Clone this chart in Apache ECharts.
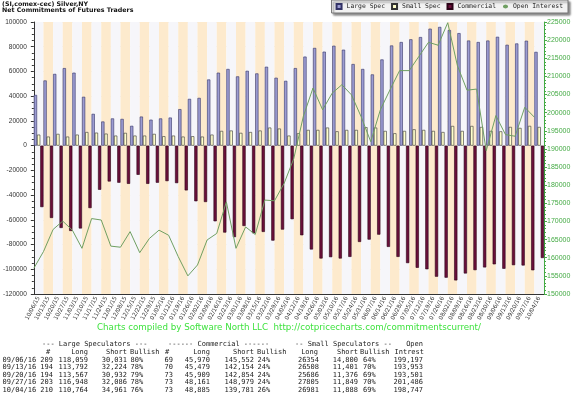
<!DOCTYPE html>
<html>
<head>
<meta charset="utf-8">
<title>Silver COT</title>
<style>
  html, body { margin: 0; padding: 0; background: #fff; }
  #main { width: 576px; height: 397px; }
</style>
</head>
<body>
<div id="main"></div>
<script src="https://cdn.jsdelivr.net/npm/echarts@6/dist/echarts.min.js"></script>
<script>
// weekly report dates
var dates = ['10/06/15','10/13/15','10/20/15','10/27/15','11/03/15','11/10/15','11/17/15','11/24/15','12/01/15','12/08/15',
  '12/15/15','12/22/15','12/29/15','01/05/16','01/12/16','01/19/16','01/26/16','02/02/16','02/09/16','02/16/16',
  '02/23/16','03/01/16','03/08/16','03/15/16','03/22/16','03/29/16','04/05/16','04/12/16','04/19/16','04/26/16',
  '05/03/16','05/10/16','05/17/16','05/24/16','05/31/16','06/07/16','06/14/16','06/21/16','06/28/16','07/05/16',
  '07/12/16','07/19/16','07/26/16','08/02/16','08/09/16','08/16/16','08/23/16','08/30/16','09/06/16','09/13/16',
  '09/20/16','09/27/16','10/04/16'];

// net positions
var largeSpec = [41000,52700,58000,62700,59000,39500,25700,19500,22000,21600,
  16000,23500,21000,22000,22700,29500,37800,38600,53500,59000,
  62000,56000,60500,58400,63800,54900,52400,62700,72000,79000,
  76000,80800,77600,66000,62000,57600,69700,81000,83800,86000,
  87800,94600,96000,93500,91000,85000,83800,85000,88028,81568,
  82635,84862,75803];
var smallSpec = [8900,7300,9500,7300,8900,11000,10500,9700,8100,10300,
  8100,8100,9500,7600,8100,7300,7600,7300,8900,11900,
  12200,10300,11000,12200,14600,13800,8100,10000,12700,12700,
  14600,11600,12700,12700,14900,14600,11900,10000,11900,13200,
  12700,11900,11000,15900,11900,15900,15100,11900,11554,15107,
  14310,15956,15093];
var commercial = [-49700,-58500,-66600,-69000,-67000,-50500,-35700,-29000,-30000,-30900,
  -23600,-30900,-30000,-28700,-30300,-36200,-45000,-45600,-61200,-70300,
  -74000,-65000,-70900,-69800,-76800,-67900,-59500,-72500,-84000,-91300,
  -90200,-91300,-90000,-77900,-76000,-72000,-81900,-90000,-95000,-98800,
  -100000,-106000,-106800,-109000,-103400,-100700,-98500,-96000,-99582,-96675,
  -96945,-100818,-90896];
var openInterest = [157100,161700,167800,170100,167600,162600,170800,170400,163200,162900,
  167200,161400,165300,167600,166200,160300,155000,158000,164900,166700,
  175400,162600,168500,166400,175900,175700,180500,187300,199000,206800,
  200800,205400,207700,204900,198900,192000,200800,206300,211600,211600,
  215500,219400,218600,224800,213000,206200,206500,189500,199197,193953,
  193501,201486,198747];

// table at the bottom
var tblDates = ['09/06/16','09/13/16','09/20/16','09/27/16','10/04/16'];
var lgCount = ['209','194','194','203','210'];
var lgLong = ['118,059','113,792','113,567','116,948','110,764'];
var lgShort = ['30,031','32,224','30,932','32,086','34,961'];
var lgBull = ['80%','78%','79%','78%','76%'];
var cmCount = ['69','70','73','73','73'];
var cmLong = ['45,970','45,479','45,909','48,161','48,885'];
var cmShort = ['145,552','142,154','142,854','148,979','139,781'];
var cmBull = ['24%','24%','24%','24%','26%'];
var smLong = ['26354','26508','25686','27805','26981'];
var smShort = ['14,800','11,401','11,376','11,849','11,888'];
var smBull = ['64%','70%','69%','70%','69%'];
var oiTbl = ['199,197','193,953','193,501','201,486','198,747'];

var mono = '7px "DejaVu Sans Mono"';
function txt(s, x, y, align, font, fill) {
    return {
        type: 'text', silent: true,
        style: { text: s, x: x, y: y, font: font || mono, fill: fill || '#222',
                 align: align, textAlign: align, verticalAlign: 'middle', textVerticalAlign: 'middle' }
    };
}

var g = [];
g.push(txt('(SI,comex-cec) Silver,NY', 2, 4, 'left', 'bold 6.3px "DejaVu Sans"', '#111'));
g.push(txt('Net Commitments of Futures Traders', 2, 10.5, 'left', 'bold 6.3px "DejaVu Sans"', '#111'));
g.push(txt('Charts compiled by Software North LLC  http://cotpricecharts.com/commitmentscurrent/', 289, 328, 'center', '8.7px "DejaVu Sans"', '#3ee23e'));

// headers
g.push(txt('--- Large Speculators ---', 42, 344, 'left'));
g.push(txt('------ Commercial ------', 168, 344, 'left'));
g.push(txt('-- Small Speculators --', 295, 344, 'left'));
g.push(txt('Open', 423, 344, 'right'));
g.push(txt('#', 48, 352, 'center'));
g.push(txt('Long', 88, 352, 'right'));
g.push(txt('Short', 127, 352, 'right'));
g.push(txt('Bullish', 130, 352, 'left'));
g.push(txt('#', 167, 352, 'center'));
g.push(txt('Long', 210, 352, 'right'));
g.push(txt('Short', 254, 352, 'right'));
g.push(txt('Bullish', 257, 352, 'left'));
g.push(txt('Long', 318, 352, 'right'));
g.push(txt('Short', 358, 352, 'right'));
g.push(txt('Bullish', 360, 352, 'left'));
g.push(txt('Intrest', 424, 352, 'right'));

for (var r = 0; r < tblDates.length; r++) {
    var y = 359.8 + r * 7.6;
    g.push(txt(tblDates[r], 2.5, y, 'left'));
    g.push(txt(lgCount[r], 53, y, 'right'));
    g.push(txt(lgLong[r], 88, y, 'right'));
    g.push(txt(lgShort[r], 127, y, 'right'));
    g.push(txt(lgBull[r], 130.5, y, 'left'));
    g.push(txt(cmCount[r], 173, y, 'right'));
    g.push(txt(cmLong[r], 210, y, 'right'));
    g.push(txt(cmShort[r], 254, y, 'right'));
    g.push(txt(cmBull[r], 257.5, y, 'left'));
    g.push(txt(smLong[r], 319, y, 'right'));
    g.push(txt(smShort[r], 358, y, 'right'));
    g.push(txt(smBull[r], 363, y, 'left'));
    g.push(txt(oiTbl[r], 423, y, 'right'));
}

var oiPoints = openInterest.map(function (v, i) { return [i, v]; });
var plain = function (v) { return String(v); };

var myChart = echarts.init(document.getElementById('main'), null, { renderer: 'canvas' });
myChart.setOption({
    animation: false,
    backgroundColor: '#ffffff',
    grid: { left: 33, right: 32, top: 22, bottom: 103 },
    legend: {
        right: 8, top: 0,
        data: [{ name: 'Large Spec', icon: 'rect' }, { name: 'Small Spec', icon: 'rect' },
               { name: 'Commercial', icon: 'rect' }, { name: 'Open Interest' }],
        backgroundColor: '#f2f2f2',
        borderColor: '#777', borderWidth: 1,
        shadowColor: 'rgba(0,0,0,0.45)', shadowOffsetX: 2, shadowOffsetY: 2, shadowBlur: 2,
        padding: [3, 5, 3, 4],
        itemGap: 6, itemWidth: 5, itemHeight: 5,
        textStyle: { fontFamily: 'DejaVu Sans Mono', fontSize: 6.4, color: '#222' }
    },
    xAxis: [{
        type: 'category',
        data: dates,
        boundaryGap: true,
        axisLine: { onZero: false, lineStyle: { color: '#333', width: 1 } },
        axisTick: { interval: 0, inside: true, length: 3, lineStyle: { color: '#333' } },
        axisLabel: { interval: 0, rotate: 62, fontSize: 5.7, fontFamily: 'DejaVu Sans', color: '#333', margin: 3 },
        splitLine: { show: false },
        splitArea: { show: true, interval: 0, areaStyle: { color: ['#f6f6fa', '#fdeacd'] } }
    }, {
        type: 'value', min: 0, max: dates.length, show: false
    }],
    yAxis: [{
        type: 'value', min: -120000, max: 100000, interval: 20000,
        axisLine: { show: true, lineStyle: { color: '#333' } },
        axisTick: { show: true, length: 3 },
        minorTick: { show: true, splitNumber: 4, length: 2 },
        axisLabel: { fontSize: 6.5, fontFamily: 'Liberation Sans', color: '#333', margin: 7, formatter: plain },
        splitLine: { show: true, lineStyle: { color: '#d6d6d6', width: 0.6 } }
    }, {
        type: 'value', min: 150000, max: 225000, interval: 5000, position: 'right',
        axisLine: { show: true, lineStyle: { color: '#44aa44' } },
        axisTick: { show: true, length: 3 },
        minorTick: { show: true, splitNumber: 5, length: 2 },
        axisLabel: { fontSize: 7, fontFamily: 'Liberation Sans', color: '#44aa44', margin: 3, formatter: plain },
        splitLine: { show: false }
    }],
    series: [{
        name: 'Large Spec', type: 'bar', data: largeSpec,
        barGap: '0%', barCategoryGap: '0%',
        itemStyle: { color: '#9c9cd2', borderColor: '#333366', borderWidth: 0.6 }
    }, {
        name: 'Small Spec', type: 'bar', data: smallSpec,
        itemStyle: { color: '#ffffcc', borderColor: '#333333', borderWidth: 0.6 }
    }, {
        name: 'Commercial', type: 'bar', data: commercial,
        itemStyle: { color: '#6a0f3a', borderColor: '#2a0015', borderWidth: 0.6 }
    }, {
        name: 'Open Interest', type: 'line', data: oiPoints,
        xAxisIndex: 1, yAxisIndex: 1,
        symbol: 'none',
        lineStyle: { color: '#6f9f62', width: 1 },
        itemStyle: { color: '#6f9f62' }
    }],
    graphic: g
});
</script>
</body>
</html>
